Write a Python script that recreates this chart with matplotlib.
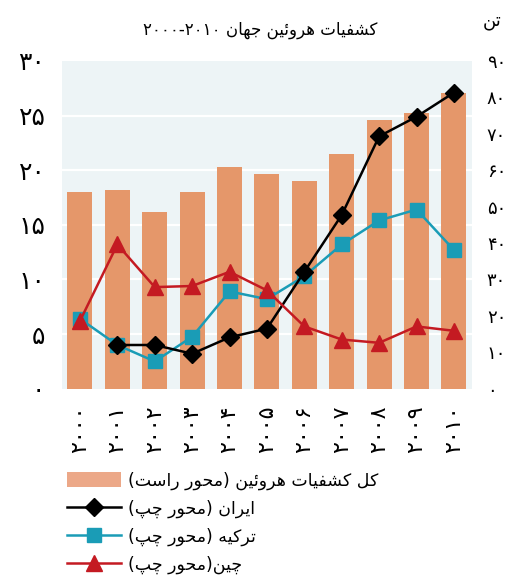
import re
import matplotlib
matplotlib.use("Agg")
import matplotlib.pyplot as plt
from matplotlib.lines import Line2D
from matplotlib.patches import Patch

# ---------------- data ----------------
years = ["۲۰۰۰", "۲۰۰۱", "۲۰۰۲", "۲۰۰۳", "۲۰۰۴", "۲۰۰۵",
         "۲۰۰۶", "۲۰۰۷", "۲۰۰۸", "۲۰۰۹", "۲۰۱۰"]
total_tons = [54.1, 54.7, 48.6, 53.9, 61.0, 58.9, 57.1, 64.5, 73.8, 75.8, 81.3]
iran = [None, 4.0, 4.0, 3.2, 4.7, 5.5, 10.7, 15.9, 23.1, 24.9, 27.1]
turkey = [6.4, 4.0, 2.5, 4.75, 8.9, 8.2, 10.3, 13.2, 15.4, 16.4, 12.7]
china = [6.2, 13.2, 9.3, 9.4, 10.7, 9.0, 5.7, 4.5, 4.2, 5.7, 5.3]
left_ticks = [0, 5, 10, 15, 20, 25, 30]
left_tick_labels = ["۰", "۵", "۱۰", "۱۵", "۲۰", "۲۵", "۳۰"]
right_ticks = [0, 10, 20, 30, 40, 50, 60, 70, 80, 90]
right_tick_labels = ["۰", "۱۰", "۲۰", "۳۰", "۴۰", "۵۰", "۶۰", "۷۰", "۸۰", "۹۰"]
title_text = "کشفیات هروئین جهان ۲۰۰۰-۲۰۱۰"
right_unit = "تن"
label_total = "کل کشفیات هروئین (محور راست)"
label_iran = "ایران (محور چپ)"
label_turkey = "ترکیه (محور چپ)"
label_china = "چین(محور چپ)"

# ------------- minimal Arabic/Persian shaping -------------
FORMS = {
    'ا': ('\uFE8D', '\uFE8E', None, None),
    'ت': ('\uFE95', '\uFE96', '\uFE97', '\uFE98'),
    'ش': ('\uFEB5', '\uFEB6', '\uFEB7', '\uFEB8'),
    'ف': ('\uFED1', '\uFED2', '\uFED3', '\uFED4'),
    'ه': ('\uFEE9', '\uFEEA', '\uFEEB', '\uFEEC'),
    'ر': ('\uFEAD', '\uFEAE', None, None),
    'و': ('\uFEED', '\uFEEE', None, None),
    'ئ': ('\uFE89', '\uFE8A', '\uFE8B', '\uFE8C'),
    'ن': ('\uFEE5', '\uFEE6', '\uFEE7', '\uFEE8'),
    'ج': ('\uFE9D', '\uFE9E', '\uFE9F', '\uFEA0'),
    'ل': ('\uFEDD', '\uFEDE', '\uFEDF', '\uFEE0'),
    'م': ('\uFEE1', '\uFEE2', '\uFEE3', '\uFEE4'),
    'ح': ('\uFEA1', '\uFEA2', '\uFEA3', '\uFEA4'),
    'س': ('\uFEB1', '\uFEB2', '\uFEB3', '\uFEB4'),
    'ک': ('\uFB8E', '\uFB8F', '\uFB90', '\uFB91'),
    'ی': ('\uFBFC', '\uFBFD', '\uFBFE', '\uFBFF'),
    'چ': ('\uFB7A', '\uFB7B', '\uFB7C', '\uFB7D'),
    'پ': ('\uFB56', '\uFB57', '\uFB58', '\uFB59'),
}


def shape(s):
    out = []
    n = len(s)
    for i, c in enumerate(s):
        if c not in FORMS:
            out.append(c)
            continue
        prev = s[i - 1] if i > 0 else ''
        nxt = s[i + 1] if i + 1 < n else ''
        join_prev = prev in FORMS and FORMS[prev][2] is not None
        join_next = nxt in FORMS and FORMS[c][2] is not None
        iso, fin, ini, med = FORMS[c]
        if join_prev and join_next:
            out.append(med)
        elif join_prev:
            out.append(fin)
        elif join_next:
            out.append(ini)
        else:
            out.append(iso)
    return ''.join(out)


MIRROR = {'(': ')', ')': '('}


def fa(s):
    shaped = shape(s)
    tokens = re.findall(r'[0-9۰-۹][0-9۰-۹\-–]*|.', shaped)
    vis = []
    for t in reversed(tokens):
        vis.append(MIRROR.get(t, t) if len(t) == 1 else t)
    return ''.join(vis)


# ---------------- figure ----------------
FONT = ['DejaVu Sans']
plt.rcParams['font.family'] = FONT

bar_color = '#E5976A'
bg_color = '#EDF4F6'
teal = '#1A9CB6'
red = '#C41A22'

fig = plt.figure(figsize=(5.21, 5.75), dpi=100)
ax = fig.add_axes([0.119, 0.324, 0.786, 0.570])
ax2 = ax.twinx()

x = list(range(len(years)))
ax.set_ylim(0, 30)
ax.set_xlim(-0.48, 10.47)
ax2.set_ylim(0, 90)

# background + gridlines + bars on the right (tons) axis, behind the lines
ax2.set_zorder(0)
ax.set_zorder(1)
ax.patch.set_visible(False)
ax2.patch.set_visible(True)
ax2.patch.set_facecolor(bg_color)
for yv in [15, 30, 45, 60, 75]:
    ax2.axhline(yv, color='white', lw=1.6, zorder=0.5)
ax2.bar(x, total_tons, width=0.67, color=bar_color, zorder=1)

iran_x = [xi for xi, v in zip(x, iran) if v is not None]
iran_y = [v for v in iran if v is not None]
ax.plot(iran_x, iran_y, color='black', lw=1.8, marker='D', ms=9, zorder=3)
ax.plot(x, turkey, color=teal, lw=1.8, marker='s', ms=10, zorder=2)
ax.plot(x, china, color=red, lw=1.8, marker='^', ms=11, zorder=4)

for a in (ax, ax2):
    for sp in a.spines.values():
        sp.set_visible(False)
    a.tick_params(length=0)

ax.set_xticks(x)
ax.set_xticklabels(years, rotation=90, fontsize=16)
ax.tick_params(axis='x', pad=12)
ax.set_yticks(left_ticks)
ax.set_yticklabels(left_tick_labels, fontsize=18)
ax.tick_params(axis='y', pad=12)
ax2.set_yticks(right_ticks)
ax2.set_yticklabels(right_tick_labels, fontsize=13)
ax2.tick_params(axis='y', pad=11)

fig.text(0.5, 0.948, fa(title_text), ha='center', va='center', fontsize=12)
fig.text(0.945, 0.963, fa(right_unit), ha='center', va='center', fontsize=13)

handles = [
    Patch(facecolor='#ECA888', edgecolor='none'),
    Line2D([], [], color='black', lw=1.8, marker='D', ms=9),
    Line2D([], [], color=teal, lw=1.8, marker='s', ms=10),
    Line2D([], [], color=red, lw=1.8, marker='^', ms=11),
]
labels = [fa(label_total), fa(label_iran), fa(label_turkey), fa(label_china)]
fig.legend(handles, labels, loc='upper left', bbox_to_anchor=(0.115, 0.192),
           frameon=False, fontsize=12.5, handlelength=3.1, handleheight=0.9,
           handletextpad=0.4, labelspacing=0.55, borderaxespad=0)

fig.savefig('out.png', dpi=100)
